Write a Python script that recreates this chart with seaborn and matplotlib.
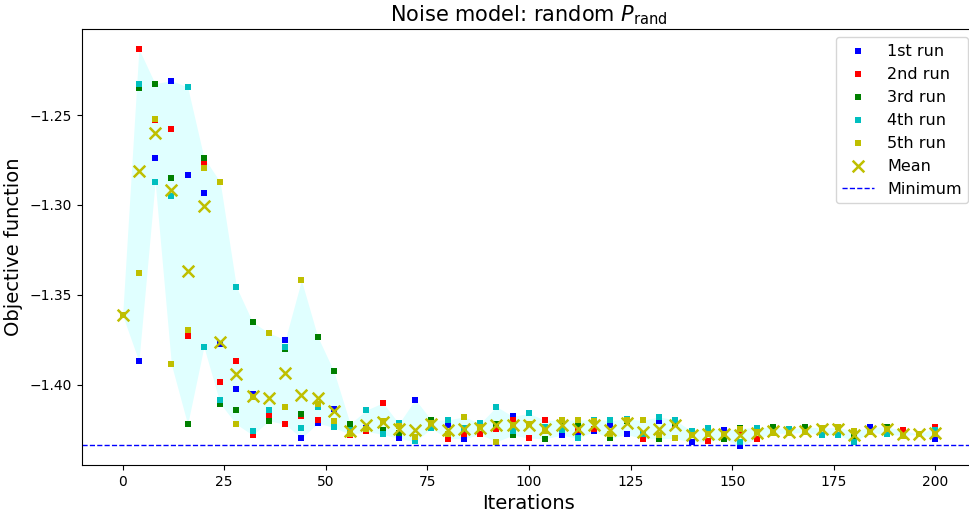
import matplotlib
matplotlib.use("Agg")
import matplotlib.pyplot as plt
import seaborn as sns
import numpy as np

# Iterations at which the objective was evaluated
iterations = [0, 4, 8, 12, 16, 20, 24, 28, 32, 36, 40, 44, 48, 52, 56, 60, 64, 68,
              72, 76, 80, 84, 88, 92, 96, 100, 104, 108, 112, 116, 120, 124, 128,
              132, 136, 140, 144, 148, 152, 156, 160, 164, 168, 172, 176, 180, 184,
              188, 192, 196, 200]

run1 = [-1.3613, -1.3869, -1.2736, -1.2308, -1.2836, -1.2932, -1.3774, -1.4022, -1.4050,
        -1.4144, -1.3750, -1.4297, -1.4214, -1.4133, -1.4270, -1.4240, -1.4200, -1.4298,
        -1.4082, -1.4215, -1.4222, -1.4300, -1.4235, -1.4219, -1.4176, -1.4218, -1.4235,
        -1.4280, -1.4276, -1.4259, -1.4222, -1.4276, -1.4272, -1.4202, -1.4210, -1.4320,
        -1.4275, -1.4254, -1.4340, -1.4265, -1.4262, -1.4265, -1.4264, -1.4240, -1.4237,
        -1.4270, -1.4234, -1.4240, -1.4282, -1.4276, -1.4300]
run2 = [-1.3613, -1.2132, -1.2529, -1.2578, -1.3730, -1.2769, -1.3983, -1.3867, -1.4280,
        -1.4174, -1.4219, -1.4174, -1.4198, -1.4219, -1.4277, -1.4259, -1.4100, -1.4230,
        -1.4289, -1.4215, -1.4300, -1.4276, -1.4276, -1.4245, -1.4196, -1.4296, -1.4198,
        -1.4200, -1.4250, -1.4245, -1.4276, -1.4195, -1.4300, -1.4280, -1.4217, -1.4277,
        -1.4315, -1.4275, -1.4258, -1.4300, -1.4265, -1.4270, -1.4264, -1.4240, -1.4237,
        -1.4270, -1.4264, -1.4245, -1.4252, -1.4276, -1.4234]
run3 = [-1.3613, -1.2348, -1.2326, -1.2852, -1.4220, -1.2736, -1.4104, -1.4141, -1.3652,
        -1.4200, -1.3799, -1.4161, -1.3732, -1.3926, -1.4217, -1.4245, -1.4254, -1.4267,
        -1.4295, -1.4196, -1.4276, -1.4247, -1.4235, -1.4219, -1.4280, -1.4218, -1.4300,
        -1.4200, -1.4220, -1.4204, -1.4298, -1.4200, -1.4272, -1.4300, -1.4210, -1.4277,
        -1.4275, -1.4302, -1.4241, -1.4265, -1.4234, -1.4262, -1.4234, -1.4240, -1.4237,
        -1.4285, -1.4264, -1.4235, -1.4282, -1.4276, -1.4275]
run4 = [-1.3613, -1.2326, -1.2872, -1.2948, -1.2344, -1.3789, -1.4082, -1.3456, -1.4258,
        -1.4141, -1.3791, -1.4239, -1.4122, -1.4237, -1.4250, -1.4141, -1.4276, -1.4215,
        -1.4315, -1.4243, -1.4196, -1.4239, -1.4215, -1.4121, -1.4256, -1.4159, -1.4235,
        -1.4254, -1.4298, -1.4193, -1.4198, -1.4190, -1.4272, -1.4178, -1.4196, -1.4258,
        -1.4239, -1.4275, -1.4317, -1.4239, -1.4260, -1.4248, -1.4264, -1.4278, -1.4278,
        -1.4317, -1.4264, -1.4276, -1.4282, -1.4276, -1.4252]
run5 = [-1.3613, -1.3380, -1.2522, -1.3887, -1.3693, -1.2794, -1.2872, -1.4219, -1.4070,
        -1.3711, -1.4121, -1.3419, -1.4104, -1.4200, -1.4276, -1.4245, -1.4200, -1.4230,
        -1.4289, -1.4215, -1.4276, -1.4178, -1.4235, -1.4317, -1.4222, -1.4218, -1.4257,
        -1.4196, -1.4196, -1.4204, -1.4276, -1.4194, -1.4198, -1.4280, -1.4298, -1.4277,
        -1.4275, -1.4275, -1.4244, -1.4265, -1.4269, -1.4270, -1.4264, -1.4240, -1.4237,
        -1.4258, -1.4264, -1.4244, -1.4282, -1.4276, -1.4275]

run_labels = ["1st run", "2nd run", "3rd run", "4th run", "5th run"]
run_colors = ["b", "r", "g", "c", "y"]
minimum_value = -1.4336

runs = np.array([run1, run2, run3, run4, run5])
mean_values = runs.mean(axis=0)
lower = runs.min(axis=0)
upper = runs.max(axis=0)

fig = plt.figure(figsize=(9.7, 5.15), dpi=100)
ax = fig.add_axes([82 / 970, 50 / 515, 894 / 970, 435.7 / 515])

# Spread of the five runs
ax.fill_between(iterations, lower, upper, color="lightcyan", linewidth=0, zorder=1)

for values, label, color in zip(runs, run_labels, run_colors):
    sns.scatterplot(x=iterations, y=values, ax=ax, color=color, marker="s", s=14,
                    linewidth=0, label=label, zorder=2)

sns.scatterplot(x=iterations, y=mean_values, ax=ax, color="y", marker="x", s=70,
                linewidth=1.8, label="Mean", zorder=3)

ax.axhline(minimum_value, color="b", linestyle="--", linewidth=1, label="Minimum", zorder=2)

ax.set_xlim(-10, 210)
ax.set_ylim(-1.4446, -1.2023)
ax.set_xticks([0, 25, 50, 75, 100, 125, 150, 175, 200])
ax.set_yticks([-1.25, -1.30, -1.35, -1.40])
ax.tick_params(labelsize=10)

ax.set_xlabel("Iterations", fontsize=14)
ax.set_ylabel("Objective function", fontsize=14, labelpad=5)
ax.set_title(r"Noise model: random $P_{\rm rand}$", fontsize=15)

ax.legend(loc="upper right", fontsize=11.5, scatterpoints=1, labelspacing=0.5)

fig.savefig("out.png", dpi=100)
